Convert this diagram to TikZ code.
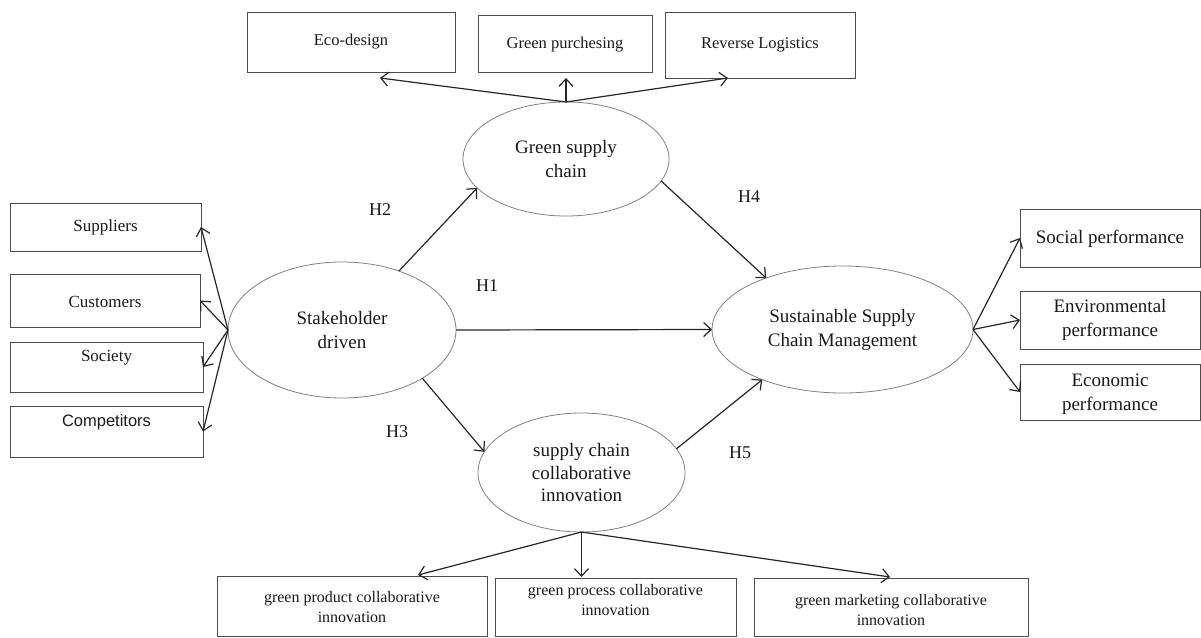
\documentclass[tikz,border=0pt]{standalone}
\usepackage{fontspec}
\setmainfont{Liberation Serif}
\newfontfamily\arialf{Liberation Sans}
\usetikzlibrary{arrows.meta,shapes.geometric}
\begin{document}
\begin{tikzpicture}[x=1pt,y=-1pt,
  box/.style={draw=black!70,line width=0.8pt,inner sep=0pt,outer sep=0pt,rectangle},
  oval/.style={draw=black!50,line width=0.8pt,ellipse,inner sep=0pt,outer sep=0pt,align=center,text=black!90,font=\fontsize{19}{24}\selectfont},
  lt/.style={text=black!90,font=\fontsize{17}{20}\selectfont,inner sep=0pt},
  tt/.style={text=black!90,font=\fontsize{16.5}{20}\selectfont,inner sep=0pt},
  bt/.style={text=black!90,font=\fontsize{16}{20}\selectfont,align=center,inner sep=0pt},
  rt/.style={text=black!90,font=\fontsize{19}{24}\selectfont,align=center,inner sep=0pt},
  hl/.style={text=black!90,font=\fontsize{18}{20}\selectfont,inner sep=0pt},
  arr/.style={draw=black!85,line width=1.2pt,-{Straight Barb[length=7.5pt,width=14pt,line width=1.2pt]}}]
\useasboundingbox (0,0) rectangle (1201,637);

% ellipses
\node[oval,minimum width=228pt,minimum height=136pt] (sd) at (342,330) {Stakeholder\\driven};
\node[oval,minimum width=206pt,minimum height=114pt] (gsc) at (566,159) {Green supply\\chain};
\node[oval,minimum width=261pt,minimum height=127pt] (sscm) at (842.5,329.5) {Sustainable Supply\\Chain Management};
\node[oval,minimum width=207pt,minimum height=119pt,font=\fontsize{19}{22.5}\selectfont] (col) at (581.5,472.5) {supply chain\\collaborative\\innovation};

% left boxes
\node[box,minimum width=191pt,minimum height=48pt] (sup) at (105.5,227) {};
\node[lt] at (sup.center) {Suppliers};
\node[box,minimum width=190pt,minimum height=53pt] (cus) at (105,300.5) {};
\node[lt] at (105,302) {Customers};
\node[box,minimum width=193pt,minimum height=50pt] (soc) at (106.5,367) {};
\node[lt] at (106.5,358) {Society};
\node[box,minimum width=193pt,minimum height=51pt] (com) at (106.5,431.5) {};
\node[lt,font=\arialf\fontsize{16.5}{20}\selectfont] at (106.5,422) {Competitors};

% top boxes
\node[box,minimum width=208pt,minimum height=60pt] (eco) at (351,42) {};
\node[tt] at (351,42) {Eco-design};
\node[box,minimum width=174pt,minimum height=57pt] (gp) at (565,43.5) {};
\node[tt] at (565,45) {Green purchesing};
\node[box,minimum width=190pt,minimum height=66pt] (rl) at (760,45) {};
\node[tt] at (760,45) {Reverse Logistics};

% right boxes
\node[box,minimum width=180pt,minimum height=58pt] (sp) at (1110,238) {};
\node[rt] at (1110,239) {Social performance};
\node[box,minimum width=180pt,minimum height=58pt] (ep) at (1110,320) {};
\node[rt] at (1110,320) {Environmental\\performance};
\node[box,minimum width=180pt,minimum height=56pt] (ecp) at (1110,392) {};
\node[rt] at (1110,394) {Economic\\performance};

% bottom boxes
\node[box,minimum width=270pt,minimum height=60pt] (prod) at (352,606) {};
\node[bt] at (352,607) {green product collaborative\\innovation};
\node[box,minimum width=241pt,minimum height=58pt] (proc) at (615.5,607) {};
\node[bt] at (615.5,600) {green process collaborative\\innovation};
\node[box,minimum width=274pt,minimum height=58pt] (mkt) at (891,607) {};
\node[bt] at (891,610) {green marketing collaborative\\innovation};

% hypothesis labels
\node[hl] (h1) at (487,286) {H1};
\node[hl] (h2) at (380,210) {H2};
\node[hl] (h3) at (397,432) {H3};
\node[hl] (h4) at (749,197) {H4};
\node[hl] (h5) at (740,453) {H5};

% free arrow ends
\coordinate (ecoT) at (380,78);
\coordinate (gpT) at (566,78);
\coordinate (rlT) at (728,78);
\coordinate (prodT) at (418,575);
\coordinate (procT) at (581.5,577);
\coordinate (mktT) at (890,577);

% left arrows
\draw[arr] (sd.west) -- (sup.east);
\draw[arr] (sd.west) -- (cus.east);
\draw[arr] (sd.west) -- (soc.east);
\draw[arr] (sd.west) -- (com.east);

% top arrows
\draw[arr] (gsc.north) -- (ecoT);
\draw[arr] (gsc.north) -- (gpT);
\draw[arr] (gsc.north) -- (rlT);

% bottom arrows
\draw[arr] (col.south) -- (prodT);
\draw[arr] (col.south) -- (procT);
\draw[arr] (col.south) -- (mktT);

% right arrows
\draw[arr] (sscm.east) -- (sp.west);
\draw[arr] (sscm.east) -- (ep.west);
\draw[arr] (sscm.east) -- (ecp.west);

% hypotheses arrows
\draw[arr] (sd.east) -- (sscm.west);
\draw[arr] (sd.46) -- (gsc.198);
\draw[arr] (gsc.-13) -- (sscm.146.5);
\draw[arr] (sd.-31) -- (col.168);
\draw[arr] (col.14.7) -- (sscm.212.4);
\end{tikzpicture}
\end{document}
